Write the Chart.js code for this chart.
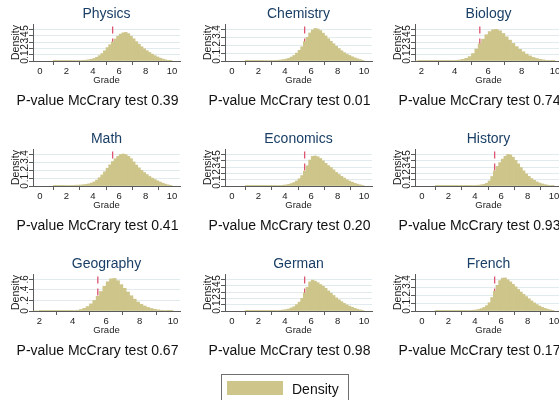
<!DOCTYPE html>
<html>
<head>
<meta charset="utf-8">
<title>Grade densities by subject</title>
<script src="https://cdn.jsdelivr.net/npm/chart.js@4.4.1/dist/chart.umd.min.js"></script>
<style>
  body {
    margin: 0;
    width: 559px;
    height: 400px;
    overflow: hidden;
    position: relative;
    background: #fff;
    font-family: "Liberation Sans", Arial, sans-serif;
  }
  .panel { position: absolute; width: 195px; height: 125px; }
  .legend {
    position: absolute;
    left: 221px;
    top: 374px;
    width: 126px;
    height: 34px;
    border: 1px solid #6e6e6e;
  }
  .legend .swatch { position: absolute; left: 5px; top: 6px; width: 56px; height: 14px; }
  .legend .label { position: absolute; left: 70px; top: 6px; font-size: 14px; line-height: 16px; color: #111; }
</style>
</head>
<body>
<div id="grid"></div>
<div class="legend" id="legend"></div>
<script>
  const subjects = ["Physics", "Chemistry", "Biology", "Math", "Economics", "History", "Geography", "German", "French"];
  const pValues = ["0.39", "0.01", "0.74", "0.41", "0.20", "0.93", "0.67", "0.98", "0.17"];

  // histogram bin centres (width 0.2)
  const gradeBins = [1.1, 1.3, 1.5, 1.7, 1.9, 2.1, 2.3, 2.5, 2.7, 2.9, 3.1, 3.3, 3.5, 3.7, 3.9,
    4.1, 4.3, 4.5, 4.7, 4.9, 5.1, 5.3, 5.5, 5.7, 5.9, 6.1, 6.3, 6.5, 6.7, 6.9,
    7.1, 7.3, 7.5, 7.7, 7.9, 8.1, 8.3, 8.5, 8.7, 8.9, 9.1, 9.3, 9.5, 9.7, 9.9];

  const physics = [0.002, 0.002, 0.003, 0.003, 0.004, 0.005, 0.005, 0.006, 0.007, 0.008, 0.009, 0.011, 0.014, 0.02, 0.028,
    0.04, 0.058, 0.085, 0.118, 0.162, 0.212, 0.258, 0.302, 0.348, 0.392, 0.425, 0.446, 0.452, 0.432, 0.392,
    0.352, 0.306, 0.266, 0.226, 0.192, 0.163, 0.134, 0.108, 0.085, 0.064, 0.046, 0.031, 0.019, 0.01, 0.005];
  const chemistry = [0.001, 0.001, 0.002, 0.002, 0.003, 0.004, 0.004, 0.005, 0.006, 0.006, 0.007, 0.008, 0.01, 0.013, 0.017,
    0.024, 0.034, 0.05, 0.07, 0.1, 0.135, 0.18, 0.245, 0.3, 0.355, 0.392, 0.412, 0.405, 0.385, 0.352,
    0.318, 0.282, 0.25, 0.218, 0.186, 0.158, 0.13, 0.106, 0.086, 0.07, 0.054, 0.04, 0.028, 0.018, 0.009];
  const biology = [0, 0, 0, 0, 0.001, 0.001, 0.001, 0.001, 0.002, 0.002, 0.002, 0.003, 0.004, 0.005, 0.007,
    0.011, 0.017, 0.027, 0.042, 0.07, 0.118, 0.19, 0.272, 0.345, 0.415, 0.465, 0.495, 0.5, 0.478, 0.435,
    0.382, 0.33, 0.278, 0.228, 0.184, 0.145, 0.11, 0.08, 0.057, 0.04, 0.027, 0.018, 0.011, 0.006, 0.003];
  const math = [0.002, 0.003, 0.003, 0.004, 0.005, 0.006, 0.007, 0.008, 0.01, 0.011, 0.013, 0.016, 0.02, 0.027, 0.037,
    0.052, 0.075, 0.105, 0.14, 0.18, 0.225, 0.268, 0.31, 0.345, 0.375, 0.398, 0.405, 0.398, 0.375, 0.345,
    0.305, 0.265, 0.23, 0.198, 0.17, 0.145, 0.12, 0.1, 0.082, 0.066, 0.05, 0.036, 0.024, 0.014, 0.008];
  const economics = [0.001, 0.001, 0.001, 0.002, 0.002, 0.003, 0.003, 0.004, 0.004, 0.005, 0.005, 0.006, 0.008, 0.01, 0.013,
    0.018, 0.026, 0.038, 0.055, 0.08, 0.115, 0.165, 0.235, 0.32, 0.41, 0.468, 0.475, 0.462, 0.435, 0.398,
    0.358, 0.322, 0.292, 0.255, 0.215, 0.182, 0.152, 0.126, 0.1, 0.078, 0.06, 0.043, 0.03, 0.018, 0.009];
  const history = [0.001, 0.001, 0.001, 0.001, 0.002, 0.002, 0.002, 0.003, 0.003, 0.003, 0.004, 0.004, 0.005, 0.006, 0.008,
    0.01, 0.013, 0.018, 0.026, 0.042, 0.08, 0.15, 0.24, 0.31, 0.37, 0.425, 0.47, 0.498, 0.492, 0.455,
    0.405, 0.35, 0.292, 0.24, 0.192, 0.152, 0.118, 0.09, 0.066, 0.047, 0.033, 0.022, 0.014, 0.008, 0.004];
  const geography = [0, 0, 0, 0, 0, 0.001, 0.001, 0.001, 0.001, 0.002, 0.002, 0.002, 0.003, 0.004, 0.006,
    0.009, 0.015, 0.028, 0.05, 0.085, 0.135, 0.2, 0.28, 0.37, 0.47, 0.555, 0.61, 0.618, 0.575, 0.5,
    0.43, 0.36, 0.29, 0.225, 0.17, 0.128, 0.095, 0.068, 0.048, 0.033, 0.022, 0.014, 0.009, 0.005, 0.003];
  const german = [0.001, 0.001, 0.002, 0.002, 0.003, 0.003, 0.004, 0.004, 0.005, 0.005, 0.006, 0.007, 0.009, 0.012, 0.016,
    0.022, 0.032, 0.048, 0.068, 0.1, 0.14, 0.2, 0.285, 0.375, 0.46, 0.488, 0.472, 0.448, 0.418, 0.392,
    0.358, 0.318, 0.282, 0.245, 0.208, 0.178, 0.148, 0.12, 0.097, 0.077, 0.058, 0.042, 0.028, 0.017, 0.009];
  const french = [0.001, 0.001, 0.001, 0.002, 0.002, 0.003, 0.003, 0.003, 0.004, 0.004, 0.005, 0.005, 0.006, 0.008, 0.01,
    0.014, 0.02, 0.03, 0.045, 0.068, 0.105, 0.17, 0.25, 0.325, 0.385, 0.415, 0.418, 0.395, 0.368, 0.338,
    0.306, 0.272, 0.24, 0.21, 0.182, 0.155, 0.128, 0.103, 0.082, 0.063, 0.047, 0.034, 0.023, 0.014, 0.008];

  const densities = [physics, chemistry, biology, math, economics, history, geography, german, french];

  // axis ticks
  const gradeTicksFull = [0, 2, 4, 6, 8, 10];
  const gradeTicksShort = [2, 4, 6, 8, 10];
  const densityTicks5 = [0, 0.1, 0.2, 0.3, 0.4, 0.5];
  const densityTicks4 = [0, 0.1, 0.2, 0.3, 0.4];
  const densityTicks6 = [0, 0.2, 0.4, 0.6];

  const xTickSets = [gradeTicksFull, gradeTicksFull, gradeTicksShort, gradeTicksFull, gradeTicksFull,
    gradeTicksFull, gradeTicksShort, gradeTicksFull, gradeTicksFull];
  const yTickSets = [densityTicks5, densityTicks4, densityTicks5, densityTicks4, densityTicks5,
    densityTicks5, densityTicks6, densityTicks5, densityTicks4];

  const cutoff = 5.5;

  const barColor = "#cdc58a";
  const cutoffColor = "#dc5470";
  const axisColor = "#5a5a5a";
  const gridColor = "#e1ebee";
  const textColor = "#222";
  const titleColor = "#1a3f66";
  const fontFamily = '"Liberation Sans", Arial, sans-serif';

  const colLeft = [0, 192, 382];
  const rowTop = [0, 125, 250];

  function xRange(ticks) {
    return ticks[0] === 0 ? { min: -0.53, max: 10.6 } : { min: 1.62, max: 10.42 };
  }

  function yTop(ticks) {
    // plot region leaves some room above the last label
    return ticks[ticks.length - 1] * 1.17;
  }

  function formatDensity(v) {
    return v === 0 ? "0" : String(v).replace("0.", ".");
  }

  const grid = document.getElementById("grid");
  const charts = [];

  subjects.forEach((subject, i) => {
    const box = document.createElement("div");
    box.className = "panel";
    box.style.left = colLeft[i % 3] + "px";
    box.style.top = rowTop[Math.floor(i / 3)] + "px";
    const canvas = document.createElement("canvas");
    box.appendChild(canvas);
    grid.appendChild(box);

    const xr = xRange(xTickSets[i]);
    const ymax = yTop(yTickSets[i]);

    charts.push(new Chart(canvas, {
      type: "bar",
      data: {
        datasets: [
          {
            type: "bar",
            label: "Density",
            data: gradeBins.map((g, k) => ({ x: g, y: densities[i][k] })),
            backgroundColor: barColor,
            borderWidth: 0,
            barPercentage: 1,
            categoryPercentage: 1,
            order: 1
          },
          {
            type: "line",
            label: "Cutoff",
            data: [{ x: cutoff, y: ymax }, { x: cutoff, y: 0 }],
            borderColor: cutoffColor,
            borderWidth: 1.3,
            borderDash: [7, 5],
            borderDashOffset: 9.5,
            pointRadius: 0,
            order: 2
          }
        ]
      },
      options: {
        responsive: true,
        maintainAspectRatio: false,
        animation: false,
        layout: { padding: 0 },
        plugins: {
          legend: { display: false },
          tooltip: { enabled: false },
          title: {
            display: true,
            text: subject,
            fullSize: false,
            color: titleColor,
            font: { family: fontFamily, size: 14, weight: "normal" },
            padding: { top: 5.6, bottom: 1.6 }
          },
          subtitle: {
            display: true,
            position: "bottom",
            text: "P-value McCrary test " + pValues[i],
            color: "#111",
            font: { family: fontFamily, size: 14 },
            padding: { top: 5.4, bottom: 15.8 }
          }
        },
        scales: {
          x: {
            type: "linear",
            offset: false,
            min: xr.min,
            max: xr.max,
            afterBuildTicks: s => { s.ticks = xTickSets[i].map(v => ({ value: v })); },
            // keep the plot narrower than the caption line underneath
            afterFit: s => { s.height = 26; s.paddingRight = 15; },
            grid: { drawOnChartArea: false, tickLength: 4, tickColor: axisColor },
            border: { color: axisColor },
            ticks: { color: textColor, padding: 1, maxRotation: 0, autoSkip: false, font: { family: fontFamily, size: 9.5 } },
            title: { display: true, text: "Grade", color: textColor, font: { family: fontFamily, size: 9.5 }, padding: { top: 0, bottom: 0.5 } }
          },
          y: {
            min: 0,
            max: ymax,
            afterBuildTicks: s => { s.ticks = yTickSets[i].map(v => ({ value: v })); },
            afterFit: s => { s.width = 33; },
            grid: { color: gridColor, tickLength: 4, tickColor: axisColor },
            border: { color: axisColor },
            ticks: {
              color: textColor,
              minRotation: 90,
              maxRotation: 90,
              crossAlign: "center",
              autoSkip: false,
              padding: 0,
              font: { family: fontFamily, size: 10 },
              callback: v => formatDensity(v)
            },
            title: { display: true, text: "Density", color: textColor, font: { family: fontFamily, size: 10.5 }, padding: { top: 10, bottom: 0 } }
          }
        }
      }
    }));
  });

  // single shared legend under the grid
  const bars = charts[0].data.datasets[0];
  document.getElementById("legend").innerHTML =
    `<div class="swatch" style="background:${bars.backgroundColor}"></div>` +
    `<div class="label">${bars.label}</div>`;
</script>
</body>
</html>
